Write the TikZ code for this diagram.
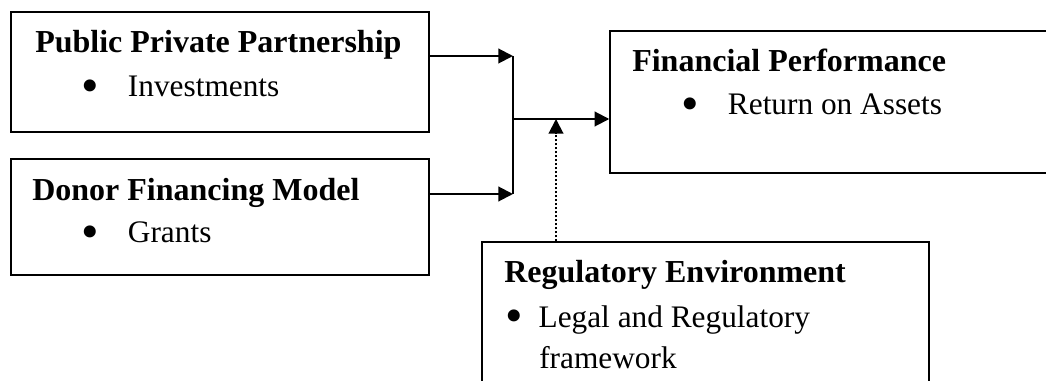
\documentclass[tikz,border=0pt]{standalone}
\usepackage{fontspec}
\setmainfont{Liberation Serif}
\usetikzlibrary{arrows.meta}

\tikzset{
  box/.style={draw, line width=1.1pt, inner sep=0pt, rectangle},
  head/.style={anchor=base west, inner sep=0pt, font=\fontsize{24}{28}\selectfont\bfseries},
  item/.style={anchor=base west, inner sep=0pt, font=\fontsize{23.5}{28}\selectfont},
  flow/.style={line width=1.5pt, -{Triangle[length=11pt,width=11pt]}},
}
% bullet, gap, text
\newcommand{\bitem}[2]{\makebox[#1][l]{\raisebox{-0.19em}{\scalebox{1.6}{\textbullet}}}#2}

\begin{document}
\begin{tikzpicture}[x=0.75pt,y=-0.75pt]
    \clip (0,0) rectangle (1046,381);
    \useasboundingbox (0,0) rectangle (1046,381);

    % the four boxes
    \node[box, minimum width=313.5pt, minimum height=90pt] (ppp) at (220,72) {};
    \node[box, minimum width=313.5pt, minimum height=87pt] (dfm) at (220,217) {};
    \node[box, minimum width=367.5pt, minimum height=106.5pt] (fp) at (855,102) {};
    \node[box, minimum width=335pt, minimum height=133.5pt] (reg) at (705.5,331) {};

    % texts
    \node[head] (ppp-t) at (35,53) {Public Private Partnership};
    \node[item] (ppp-i) at (81,97) {\bitem{35pt}{Investments}};
    \node[head] (dfm-t) at (32,200) {Donor Financing Model};
    \node[item] (dfm-i) at (81,243) {\bitem{35pt}{Grants}};
    \node[head] (fp-t) at (632,72) {Financial Performance};
    \node[item] (fp-i) at (681,115) {\bitem{35pt}{Return on Assets}};
    \node[head] (reg-t) at (504,282) {Regulatory Environment};
    \node[item] (reg-i) at (505,327) {\bitem{25pt}{Legal and Regulatory}};
    \node[item] (reg-i2) at (539,368) {framework};

    % junction points
    \coordinate (j1) at (513,56);
    \coordinate (j2) at (513,194);
    \coordinate (jm) at (513,119);
    \coordinate (jr) at (556,119);

    % connectors
    \draw[flow] (ppp.east |- j1) -- (j1);
    \draw[flow] (dfm.east |- j2) -- (j2);
    \draw[line width=1.5pt] (j1) -- (j2);
    \draw[flow] (jm) -- (fp.west |- jm);
    \draw[flow, dash pattern=on 1.5pt off 1.5pt] (reg.north -| jr) -- (jr);

\end{tikzpicture}
\end{document}
